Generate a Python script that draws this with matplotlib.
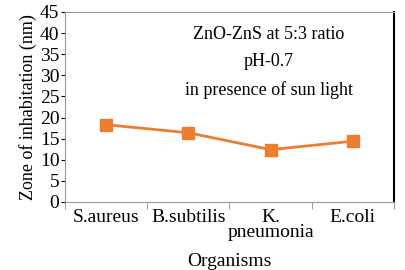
import matplotlib
matplotlib.use("Agg")
import matplotlib.pyplot as plt

organisms = ["S.aureus", "B.subtilis", "K.\npneumonia", "E.coli"]
zone = [18.3, 16.4, 12.4, 14.4]

plt.rcParams['font.family'] = ['Liberation Serif', 'DejaVu Serif']

fig = plt.figure(figsize=(4.06, 2.70), dpi=100)
ax = fig.add_axes([65 / 406, 1 - 202 / 270, (394 - 65) / 406, (202 - 12) / 270])

x = range(len(organisms))
ax.plot(x, zone, color="#ED7D31", lw=2, marker="s", markersize=9)

ax.set_xlim(-0.5, len(organisms) - 0.5)
ax.set_ylim(0, 45)
ax.set_yticks(range(0, 46, 5))
ax.set_xticks(list(x))
ax.set_xticklabels(organisms, fontsize=14, linespacing=0.85)
ax.set_xticks([i - 0.5 for i in range(len(organisms) + 1)], minor=True)
ax.tick_params(axis="x", which="major", length=0, pad=5)
ax.tick_params(axis="x", which="minor", length=5, color="#888888")
ax.tick_params(axis="y", labelsize=14, length=3, pad=1)

for s in ["top", "left", "bottom"]:
    ax.spines[s].set_color("#999999")
ax.spines["right"].set_color("black")
ax.spines["right"].set_linewidth(1.5)

ax.set_ylabel("Zone of inhabitation (nm)", fontsize=13, labelpad=2)
ax.set_xlabel("Organisms", fontsize=14, labelpad=9)

ax.text(0.62, 0.879, "ZnO-ZnS at 5:3 ratio", transform=ax.transAxes, fontsize=13, ha="center", va="center")
ax.text(0.62, 0.737, "pH-0.7", transform=ax.transAxes, fontsize=13, ha="center", va="center")
ax.text(0.62, 0.589, "in presence of sun light", transform=ax.transAxes, fontsize=13, ha="center", va="center")

fig.savefig("out.png", dpi=100)
